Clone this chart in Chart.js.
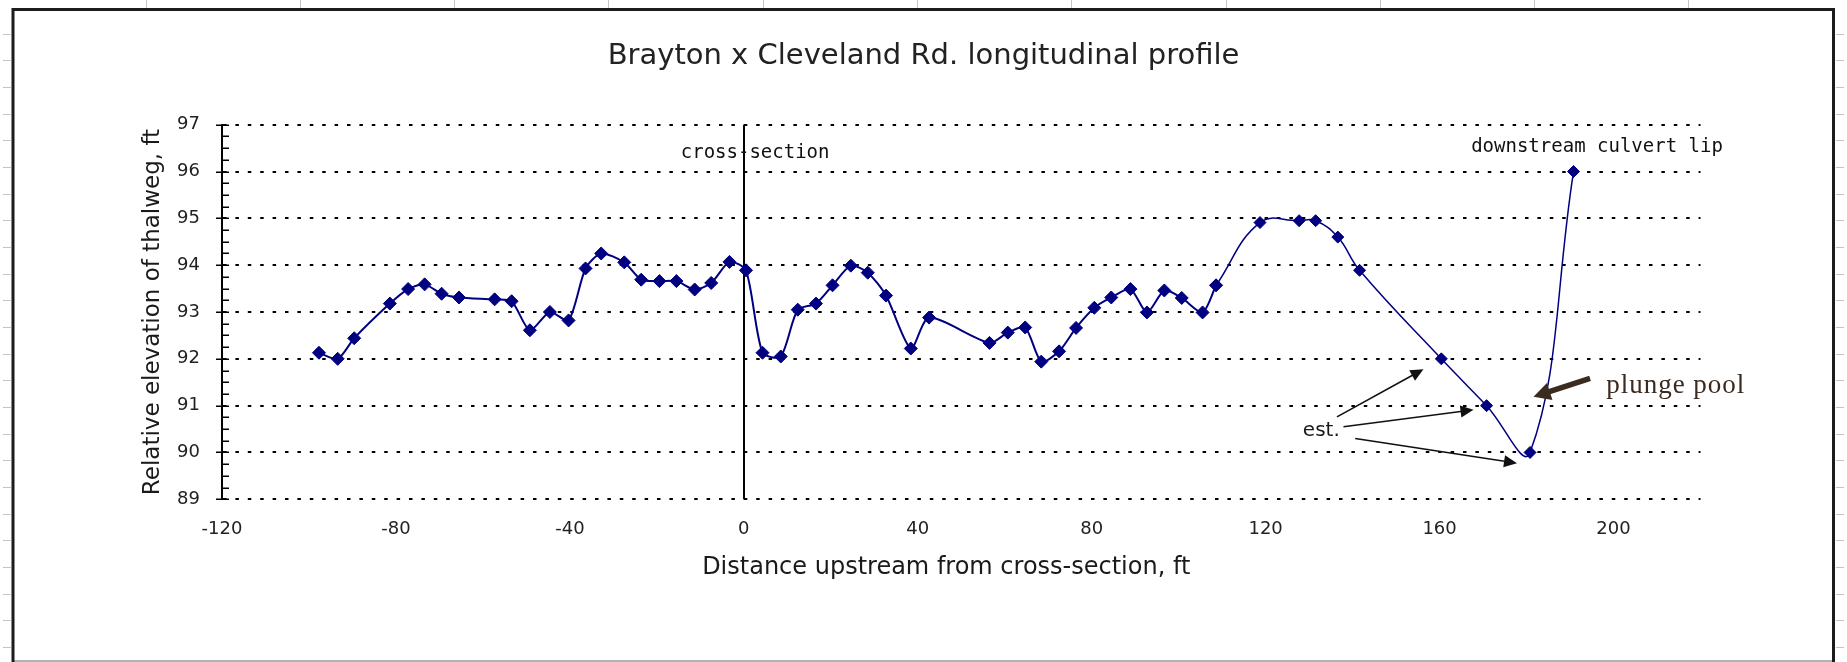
<!DOCTYPE html>
<html>
<head>
<meta charset="utf-8">
<title>Brayton x Cleveland Rd. longitudinal profile</title>
<script src="https://cdn.jsdelivr.net/npm/chart.js@4.4.1/dist/chart.umd.min.js"></script>
<style>
  html, body { margin: 0; padding: 0; background: #fff; }
  canvas { display: block; }
</style>
</head>
<body>
<canvas id="profile" width="1847" height="662"></canvas>
<script>
// Thalweg survey along the channel, distances measured upstream from the cross-section (ft)
const distanceFt = [
  -97.7, -93.4, -89.6, -81.4, -77.2, -73.4, -69.5, -65.5, -57.3, -53.4,
  -49.2, -44.6, -40.3, -36.4, -32.8, -27.5, -23.6, -19.4, -15.5, -11.3,
  -7.5, -3.3, 0.5, 4.3, 8.5, 12.4, 16.6, 20.4, 24.6, 28.5,
  32.7, 38.4, 42.6, 56.5, 60.7, 64.7, 68.4, 72.5, 76.4, 80.6,
  84.5, 88.9, 92.7, 96.7, 100.7, 105.5, 108.6, 118.7, 127.7, 131.5,
  136.6, 141.6, 160.4, 170.8, 180.8, 190.8
];

// Relative elevation of the thalweg at each station (ft)
const elevationFt = [
  92.13, 92.0, 92.44, 93.18, 93.49, 93.59, 93.39, 93.31, 93.27, 93.23,
  92.61, 93.0, 92.82, 93.93, 94.25, 94.06, 93.69, 93.66, 93.66, 93.48,
  93.62, 94.07, 93.89, 92.13, 92.05, 93.05, 93.18, 93.57, 93.99, 93.84,
  93.35, 92.22, 92.88, 92.34, 92.56, 92.67, 91.94, 92.16, 92.66, 93.09,
  93.31, 93.49, 92.99, 93.46, 93.30, 92.99, 93.57, 94.91, 94.95, 94.95,
  94.60, 93.89, 92.0, 91.0, 90.0, 96.0
];

// The upper reach (from the 108.6 ft station towards the culvert) is drawn as its own, smoother trace
const upperReachStart = 46;

// Axis tick labels
const xTickValues = [-120, -80, -40, 0, 40, 80, 120, 160, 200];
const yTickValues = [89, 90, 91, 92, 93, 94, 95, 96, 97];

// Location of the surveyed cross-section
const crossSectionAt = 0;

// Text notes, placed in data units: [text, x, y]
const sectionNote = ['cross-section', 2.6, 96.4];
const culvertNote = ['downstream culvert lip', 196.2, 96.52];
const estimateNote = ['est.', 132.8, 90.47];
const plungeNote = ['plunge pool', 198.3, 91.42];

// Leader arrows for the estimated stations, data units: [fromX, fromY, toX, toY]
const estimateArrows = [
  [136.4, 90.76, 156.3, 91.78],
  [137.9, 90.55, 167.8, 90.91],
  [140.6, 90.30, 177.8, 89.77]
];
const plungeArrow = [194.6, 91.58, 181.6, 91.19];

const xAxisTitle = 'Distance upstream from cross-section, ft';

const SANS = "'DejaVu Sans', Verdana, sans-serif";
const MONO = "'DejaVu Sans Mono', monospace";
const NAVY = '#000080';

const points = distanceFt.map((x, i) => ({ x, y: elevationFt[i] }));
const lowerReach = points.slice(0, upperReachStart + 1);
const upperReach = points.slice(upperReachStart);

// Worksheet frame that surrounds the embedded chart
const sheetBackdrop = {
  id: 'sheetBackdrop',
  beforeDraw(chart) {
    const { ctx, width, height } = chart;
    ctx.save();
    ctx.fillStyle = '#fff';
    ctx.fillRect(0, 0, width, height);
    ctx.strokeStyle = '#c4c4c4';
    ctx.lineWidth = 1;
    ctx.beginPath();
    for (let x = 145.5; x < width - 20; x += 154.3) {
      ctx.moveTo(Math.round(x) + 0.5, 0);
      ctx.lineTo(Math.round(x) + 0.5, 8);
    }
    for (let y = 33.5; y < height; y += 26.67) {
      const yy = Math.round(y) + 0.5;
      ctx.moveTo(3, yy); ctx.lineTo(11, yy);
      ctx.moveTo(1836, yy); ctx.lineTo(1844, yy);
    }
    ctx.stroke();
    // bottom edge of the frame, lighter
    ctx.strokeStyle = '#9a9a9a';
    ctx.lineWidth = 1.5;
    ctx.beginPath();
    ctx.moveTo(13, 661); ctx.lineTo(1833.5, 661);
    ctx.stroke();
    ctx.strokeStyle = '#1c1c1c';
    ctx.lineWidth = 3;
    ctx.beginPath();
    ctx.moveTo(13, 662); ctx.lineTo(13, 9.5); ctx.lineTo(1833.5, 9.5); ctx.lineTo(1833.5, 662);
    ctx.stroke();
    ctx.restore();
  }
};

// Vertical marker at the cross-section station
const sectionLine = {
  id: 'sectionLine',
  beforeDatasetsDraw(chart) {
    const { ctx, chartArea, scales } = chart;
    const px = Math.round(scales.x.getPixelForValue(crossSectionAt));
    ctx.save();
    ctx.strokeStyle = '#000';
    ctx.lineWidth = 2;
    ctx.beginPath();
    ctx.moveTo(px, chartArea.top);
    ctx.lineTo(px, chartArea.bottom);
    ctx.stroke();
    ctx.restore();
  }
};

// Major (crossing) and minor (inside) tick marks on the elevation axis
const elevationTicks = {
  id: 'elevationTicks',
  afterDraw(chart) {
    const { ctx, chartArea, scales } = chart;
    const y = scales.y;
    const x0 = chartArea.left;
    ctx.save();
    ctx.strokeStyle = '#000';
    ctx.lineWidth = 1.5;
    ctx.beginPath();
    for (let i = 0; i <= (y.max - y.min) * 4; i++) {
      const v = y.min + i * 0.25;
      const py = Math.round(y.getPixelForValue(v)) + 0.25;
      const major = i % 4 === 0;
      ctx.moveTo(major ? x0 - 6 : x0, py);
      ctx.lineTo(x0 + 7, py);
    }
    ctx.stroke();
    ctx.restore();
  }
};

function arrow(ctx, x1, y1, x2, y2, lw, headLen, headHalf, color) {
  const ang = Math.atan2(y2 - y1, x2 - x1);
  const bx = x2 - Math.cos(ang) * headLen;
  const by = y2 - Math.sin(ang) * headLen;
  ctx.save();
  ctx.strokeStyle = color;
  ctx.fillStyle = color;
  ctx.lineWidth = lw;
  ctx.beginPath();
  ctx.moveTo(x1, y1);
  ctx.lineTo(bx + Math.cos(ang) * 2, by + Math.sin(ang) * 2);
  ctx.stroke();
  ctx.beginPath();
  ctx.moveTo(x2, y2);
  ctx.lineTo(bx - Math.sin(ang) * headHalf, by + Math.cos(ang) * headHalf);
  ctx.lineTo(bx + Math.sin(ang) * headHalf, by - Math.cos(ang) * headHalf);
  ctx.closePath();
  ctx.fill();
  ctx.restore();
}

// Text notes, leader arrows and the distance axis title
const profileNotes = {
  id: 'profileNotes',
  afterDraw(chart) {
    const { ctx, scales, chartArea } = chart;
    const X = v => scales.x.getPixelForValue(v);
    const Y = v => scales.y.getPixelForValue(v);
    ctx.save();
    ctx.textBaseline = 'middle';
    ctx.textAlign = 'center';

    // distance axis title, set a little left of the plot centre
    ctx.fillStyle = '#1a1a1a';
    ctx.font = '24px ' + SANS;
    ctx.fillText(xAxisTitle, (chartArea.left + chartArea.right) / 2 - 15, chartArea.bottom + 68.5);

    ctx.fillStyle = '#111';
    ctx.font = '19px ' + MONO;
    ctx.fillText(sectionNote[0], X(sectionNote[1]), Y(sectionNote[2]));
    ctx.fillText(culvertNote[0], X(culvertNote[1]), Y(culvertNote[2]));
    ctx.font = '20px ' + SANS;
    ctx.fillStyle = '#1a1a1a';
    ctx.fillText(estimateNote[0], X(estimateNote[1]), Y(estimateNote[2]));
    estimateArrows.forEach(a => {
      arrow(ctx, X(a[0]), Y(a[1]), X(a[2]), Y(a[3]), 1.6, 13, 6, '#111');
    });
    arrow(ctx, X(plungeArrow[0]), Y(plungeArrow[1]), X(plungeArrow[2]), Y(plungeArrow[3]), 5.5, 17, 9, '#3b2a20');
    ctx.textAlign = 'left';
    ctx.fillStyle = '#3b2a20';
    ctx.font = '27px "Liberation Serif", serif';
    if ('letterSpacing' in ctx) ctx.letterSpacing = '1px';
    ctx.fillText(plungeNote[0], X(plungeNote[1]), Y(plungeNote[2]));
    ctx.restore();
  }
};

const tickFont = { family: SANS, size: 18 };
const axisTitleFont = { family: SANS, size: 23, weight: 'normal' };

const traceStyle = {
  borderColor: NAVY,
  backgroundColor: NAVY,
  pointStyle: 'rectRot',
  pointBorderWidth: 1,
  pointBackgroundColor: NAVY,
  pointBorderColor: NAVY,
  fill: false
};

new Chart(document.getElementById('profile'), {
  type: 'line',
  data: {
    datasets: [
      Object.assign({ data: lowerReach, borderWidth: 2, pointRadius: 6.5, tension: 0.25 }, traceStyle),
      Object.assign({ data: upperReach, borderWidth: 1.5, pointRadius: 6, tension: 0.42 }, traceStyle)
    ]
  },
  options: {
    responsive: false,
    animation: false,
    devicePixelRatio: 1,
    events: [],
    layout: { padding: { left: 0, right: 0, top: 0, bottom: 0 } },
    plugins: {
      legend: { display: false },
      tooltip: { enabled: false },
      title: {
        display: true,
        text: 'Brayton x Cleveland Rd. longitudinal profile',
        color: '#222',
        font: { family: SANS, size: 29, weight: 'normal' },
        padding: { top: 39.5, bottom: 50.4 }
      }
    },
    scales: {
      x: {
        type: 'linear',
        min: -120,
        max: 220,
        afterBuildTicks: s => { s.ticks = xTickValues.map(value => ({ value })); },
        afterFit: s => { s.height = 162.7; },
        grid: { display: false, drawTicks: false },
        border: { display: false },
        ticks: { color: '#222', font: tickFont, padding: 19, maxRotation: 0, autoSkip: false }
      },
      y: {
        type: 'linear',
        min: 89,
        max: 97,
        afterBuildTicks: s => { s.ticks = yTickValues.map(value => ({ value })); },
        afterFit: s => { s.width = 222; },
        grid: { color: '#000', lineWidth: 2, drawTicks: false },
        border: { display: true, color: '#000', width: 2, dash: [3.5, 8.9] },
        ticks: { color: '#222', font: tickFont, padding: 22 },
        title: {
          display: true,
          text: 'Relative elevation of thalweg, ft',
          color: '#1a1a1a',
          font: axisTitleFont,
          padding: { top: 139.2, bottom: 0 }
        }
      },
      // blank margin to the right of the plot, keeps the title centred on the whole frame
      margin: {
        type: 'linear',
        position: 'right',
        display: true,
        grid: { display: false, drawTicks: false },
        border: { display: false },
        ticks: { display: false },
        afterFit: s => { s.width = 146.5; }
      }
    }
  },
  plugins: [sheetBackdrop, sectionLine, elevationTicks, profileNotes]
});
</script>
</body>
</html>
